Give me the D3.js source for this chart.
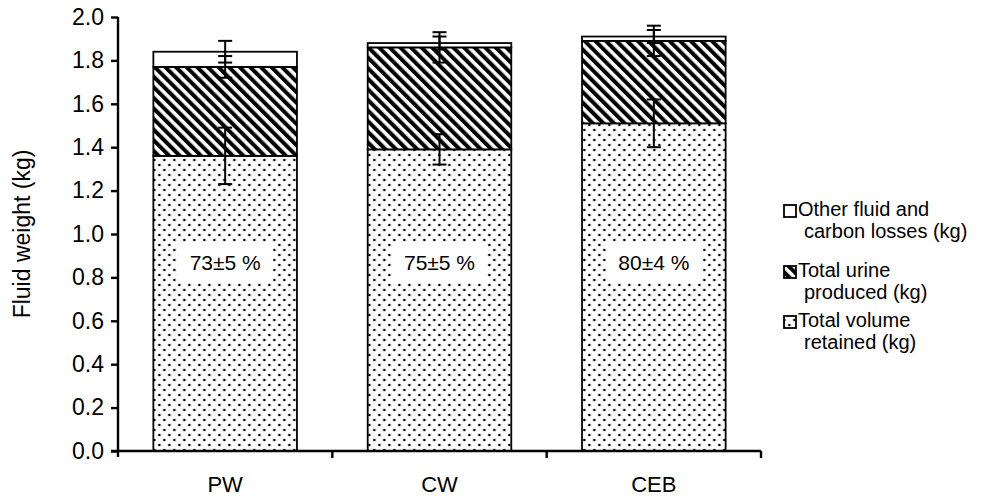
<!DOCTYPE html>
<html><head><meta charset="utf-8">
<script src="https://cdn.jsdelivr.net/npm/d3@7"></script>
<style>body{margin:0;background:#fff}svg{display:block}text{font-family:"Liberation Sans",Arial,sans-serif;fill:#000}</style>
</head><body><svg id="c" width="981" height="499"></svg>
<script>
const categories = ["PW", "CW", "CEB"];
const retained = [1.36, 1.39, 1.51];
const urine = [0.41, 0.47, 0.38];
const other = [0.07, 0.02, 0.02];
const retainedErr = [0.13, 0.07, 0.11];
const urineErr = [0.05, 0.07, 0.07];
const otherErr = [0.05, 0.03, 0.03];
const pctLabels = ["73±5 %", "75±5 %", "80±4 %"];
const yTicks = [0, 0.2, 0.4, 0.6, 0.8, 1.0, 1.2, 1.4, 1.6, 1.8, 2.0];
const legendLabels = [["Other fluid and", "carbon losses (kg)"], ["Total urine", "produced (kg)"], ["Total volume", "retained (kg)"]];

const svg = d3.select("#c");
const L = 118, R = 761, T = 17, B = 451;
const pad = 0.33;
const x = d3.scaleBand().domain(categories).range([L, R]).paddingInner(pad).paddingOuter(pad / 2);
const y = d3.scaleLinear().domain([0, 2]).range([B, T]);

const defs = svg.append("defs");
const dots = defs.append("pattern").attr("id", "dots").attr("patternUnits", "userSpaceOnUse")
  .attr("width", 10).attr("height", 10).attr("x", x("PW") + 4).attr("y", 3);
dots.append("rect").attr("width", 10).attr("height", 10).attr("fill", "#fff");
dots.append("circle").attr("cx", 2).attr("cy", 2).attr("r", 1.3).attr("fill", "#000");
dots.append("circle").attr("cx", 7).attr("cy", 7).attr("r", 1.3).attr("fill", "#000");
const hatch = defs.append("pattern").attr("id", "hatch").attr("patternUnits", "userSpaceOnUse")
  .attr("width", 7.5).attr("height", 7.5).attr("patternTransform", "rotate(-45)");
hatch.append("rect").attr("width", 7.5).attr("height", 7.5).attr("fill", "#fff");
hatch.append("rect").attr("width", 4).attr("height", 7.5).attr("fill", "#000");

const data = categories.map((c, i) => ({
  c, segs: [
    {y0: 0, y1: retained[i], fill: "url(#dots)", err: retainedErr[i]},
    {y0: retained[i], y1: retained[i] + urine[i], fill: "url(#hatch)", err: urineErr[i]},
    {y0: retained[i] + urine[i], y1: retained[i] + urine[i] + other[i], fill: "#fff", err: otherErr[i]}
  ]
}));

const g = svg.append("g");
data.forEach((d, i) => {
  d.segs.forEach(s => {
    g.append("rect").attr("x", x(d.c)).attr("width", x.bandwidth())
      .attr("y", y(s.y1)).attr("height", y(s.y0) - y(s.y1))
      .attr("fill", s.fill).attr("stroke", "#000").attr("stroke-width", 1.8);
  });
});
// percentage labels
data.forEach((d, i) => {
  const cx = x(d.c) + x.bandwidth() / 2, cy = y(0.86);
  const t = g.append("text").attr("x", cx).attr("y", cy).attr("text-anchor", "middle")
    .attr("dominant-baseline", "middle").style("font-size", "21px").text(pctLabels[i]);
  const bb = t.node().getBBox();
  g.insert("rect", () => t.node()).attr("x", bb.x - 12).attr("y", bb.y - 8)
    .attr("width", bb.width + 24).attr("height", bb.height + 16).attr("fill", "#fff");
});
// error bars
data.forEach((d, i) => {
  const cx = x(d.c) + x.bandwidth() / 2;
  d.segs.forEach(s => {
    const lo = y(s.y1 - s.err), hi = y(s.y1 + s.err);
    g.append("line").attr("x1", cx).attr("x2", cx).attr("y1", lo).attr("y2", hi).attr("stroke", "#000").attr("stroke-width", 2);
    [lo, hi].forEach(v => g.append("line").attr("x1", cx - 7).attr("x2", cx + 7).attr("y1", v).attr("y2", v).attr("stroke", "#000").attr("stroke-width", 2));
  });
});

const FS = "23px";
// y axis
const ya = svg.append("g").attr("transform", `translate(${L},0)`)
  .call(d3.axisLeft(y).tickValues(yTicks).tickFormat(d3.format(".1f")).tickSize(7).tickPadding(7));
ya.select(".domain").attr("stroke-width", 2.4).attr("d", `M0,${T}V${B + 6}`);
ya.selectAll(".tick line").attr("stroke-width", 2.4);
ya.selectAll(".tick text").style("font-size", FS).style("font-family", "Liberation Sans, Arial, sans-serif");

// x axis
const xa = svg.append("g").attr("transform", `translate(0,${B})`)
  .call(d3.axisBottom(x).tickSize(0).tickPadding(25));
xa.select(".domain").attr("stroke-width", 2.4).attr("d", `M${L - 7},0H${R}`);
xa.selectAll(".tick text").style("font-size", "22px").style("font-family", "Liberation Sans, Arial, sans-serif");
const step = x.step();
const bounds = [1, 2, 3].map(k => L + k * step);
xa.selectAll("line.bt").data(bounds).enter().append("line").attr("class", "bt")
  .attr("x1", d => d).attr("x2", d => d).attr("y1", 0).attr("y2", 7).attr("stroke", "#000").attr("stroke-width", 2.4);

// y title
svg.append("text").attr("transform", `translate(24,${y(1.0)}) rotate(-90)`)
  .attr("text-anchor", "middle").attr("dominant-baseline", "middle").style("font-size", FS).text("Fluid weight (kg)");

// legend
const fills = ["#fff", "url(#hatch)", "url(#dots)"];
const lg = svg.append("g");
const rowY = [211, 272, 322];
legendLabels.forEach((lab, i) => {
  lg.append("rect").attr("x", 784).attr("y", rowY[i] - 6).attr("width", 12).attr("height", 12)
    .attr("fill", fills[i]).attr("stroke", "#000").attr("stroke-width", 1.8);
  lab.forEach((t, j) => lg.append("text").attr("x", j === 0 ? 798 : 804).attr("y", rowY[i] + j * 22)
    .attr("dominant-baseline", "middle").style("font-size", "20px").text(t));
});
</script></body></html>
